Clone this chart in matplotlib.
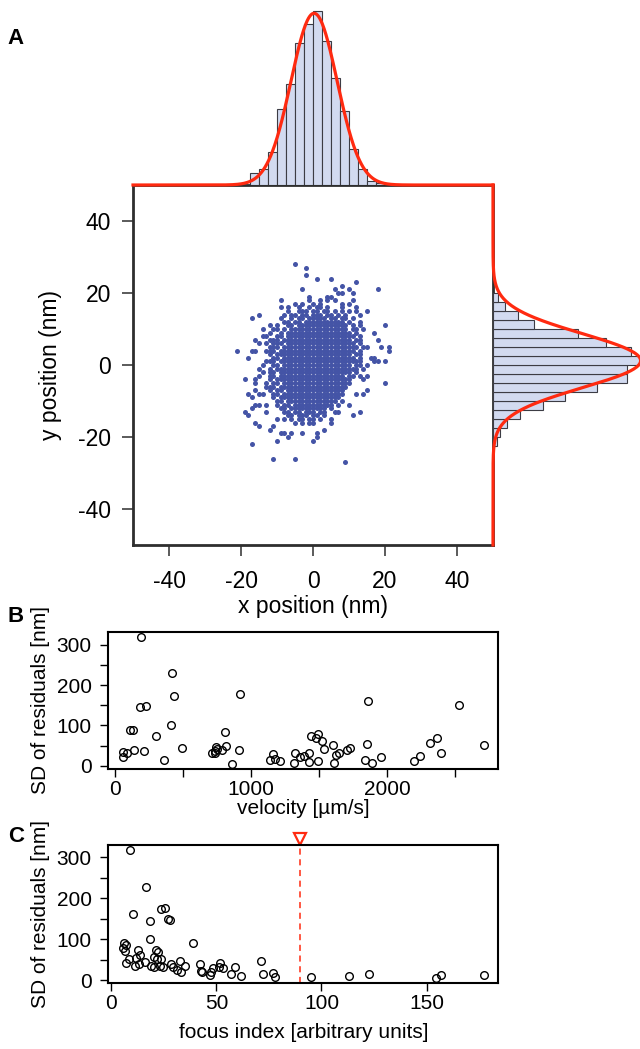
import numpy as np
import matplotlib
matplotlib.use('Agg')
import matplotlib.pyplot as plt
import matplotlib.transforms as mtransforms

plt.rcParams['font.family'] = ['Liberation Sans', 'DejaVu Sans']
plt.rcParams['axes.unicode_minus'] = False

# ---- panel A data ----
# localisations on a 1 nm grid ('#' = a point),
# first row is y = 28 nm, first column is x = -22 nm
cloud_top_y = 28
cloud_left_x = -22
cloud_rows = [
    "..... ..... ..... ..#..",
    "..... ..... ..... ..... #....",
    "",
    "..... ..... ..... ..... #....",
    "..... ..... ..... ..... ...#. ..#..",
    "..... ..... ..... ..... ..... ..... ....#",
    "..... ..... ..... ..... ..... ..... #....",
    "..... ..... ..... ....# ..... ...#. ..#.. ..... #....",
    "..... ..... ..... ..... ..... ....# #..#.",
    "..... ..... ..... ..... .#... .##..",
    "..... ..... ...#. ..... .#..# .#.#. ...#.",
    "..... ..... ..... ..#.# ..#.# ..... #.#..",
    "..... ..... ...#. #..#. .#.## .#... #...#",
    "..... ..... ..... #..## #.##. ##.#. #.#.# ..#..",
    "..... ..#.. ....# .##.# #.### .##.# .#... #....",
    "..... #.... ...#. .#.## .#### #.##. ##.#.",
    "..... ..... ....# #.##. ##### ##### #.#.. #....",
    "..... ..... #.#.. ##.## ##### ##### ##.#. #.... ..#..",
    "..... ...#. .##.# .#### ##### ##### ##.## .#...",
    "..... ..... #..#. ##### ##### ##### ###.# ....#",
    "..... ...## ..##. ##### ##### ##### ####. #....",
    "..... .#... ###.# ##### ##### ##### ###.# #.... #....",
    "..... ..#.# .###. ##### ##### ##### ####. #....",
    "..... ..... ###.# ##### ##### ##### ##### .##.. .#.#.",
    ".#... ##..# ##.## ##### ##### ##### ####. #.... ...#.",
    "..... ..... #.### ##### ##### ##### ###.# #....",
    "....# ..... .##.# ##### ##### ##### ####. #..##",
    "..... ....# ##.## ##### ##### ##### ##### #...# #.#..",
    "..... ...#. .##.# ##### ##### ##### ###.# #.#..",
    "..... ..#.. #.### ##### ##### ##### ##### .#...",
    "..... ...#. ##.## ##### ##### ##### ###.#",
    "..... ..#.. ##.## ##### ##### ##### #.##. #.#..",
    "...#. .#... #.### ##### ##### ##### ###.. .#...",
    "..... .#..# .##.# ##### ##### ##### ###.. ..... ..#..",
    "..... ....# ##.## ##### ##### ##### ##...",
    "..... .#... #.##. ##### ##### ##### #.... ..#..",
    "....# ..##. .##.# ##### ##### ##### #...# .#...",
    "..... #.... .#.## ##### ##### #####",
    "..... ..... ..##. ##### ##### ####. #....",
    "..... .##.# ..#.# #.### ##### ###.# ..#..",
    "..... #.... ...## .#### ##### #.#..",
    "...#. ....# ....# #.##. ###.# #..## ..... #....",
    "....# ..... ..... ##.## #.##. #.... ...#.",
    "..... ..... ..#.# .#.## .##.# ..#..",
    "..... .#... ..... ..#.# .##.. ..#..",
    "..... ..#.. .#...",
    "..... ..... #.... ..... ..... #....",
    "..... ..... ...## .#..# ...#.",
    "..... ..... ..... #.... ...#.",
    "..... ..... ..#.. ..... ..#..",
    "..... #....",
    "",
    "",
    "",
    "..... ..... .#... ..#..",
    "..... ..... ..... ..... ..... ..... .#...",
]

# marginal histograms (2.5 nm bins) and gaussian fits
hist_x_edges = [-17.5, -15, -12.5, -10, -7.5, -5, -2.5, 0, 2.5, 5, 7.5,
                10, 12.5, 15, 17.5, 20, 22.5]
hist_x_counts = [25, 32, 67, 152, 202, 285, 323, 348, 288, 214, 149, 73,
                 32, 8, 4, 2]
hist_y_edges = [-22.5, -20, -17.5, -15, -12.5, -10, -7.5, -5, -2.5, 0, 2.5,
                5, 7.5, 10, 12.5, 15, 17.5, 20]
hist_y_counts = [8, 13, 28, 53, 100, 143, 208, 267, 268, 300, 275, 225, 169,
                 81, 49, 23, 10]
fit_x = (0.3, 6.4)   # mean, sd (nm)
fit_y = (1.2, 7.5)

# ---- panel B / C data ----
velocity = [56, 61, 86, 110, 128, 142, 191, 184, 226, 216, 304, 363, 412, 417,
            434, 491, 709, 731, 744, 748, 736, 783, 805, 817, 861, 910, 915,
            1136, 1158, 1173, 1215, 1313, 1320, 1362, 1387, 1426, 1423, 1443,
            1477, 1490, 1492, 1521, 1539, 1600, 1607, 1627, 1644, 1706, 1725,
            1836, 1853, 1858, 1890, 1953, 2196, 2245, 2319, 2368, 2400, 2528,
            2712]
sd_b = [21, 35, 31, 90, 90, 40, 320, 145, 148, 36, 74, 14, 102, 229,
        172, 44, 31, 33, 47, 42, 37, 40, 84, 48, 4, 39, 177,
        14, 30, 16, 12, 7, 31, 21, 24, 33, 9, 74,
        69, 79, 12, 61, 41, 51, 8, 28, 31, 40, 44,
        15, 54, 161, 7, 22, 12, 25, 56, 70, 33, 150,
        52]

focus = [8.7, 16.5, 10.3, 23.8, 25.4, 26.8, 28.1, 18.4, 18.3, 38.9, 5.4, 6.2,
         7.0, 6.7, 8.3, 6.8, 11.3, 12.5, 11.7, 13.8, 13.0, 15.9, 18.9, 20.2,
         20.5, 21.3, 22.4, 21.6, 23.0, 23.7, 24.6, 28.6, 29.4, 31.3, 32.5,
         32.9, 34.8, 42.1, 42.7, 43.0, 47.1, 47.5, 48.4, 51.1, 51.6, 53.2,
         56.7, 58.6, 61.7, 71.0, 72.1, 76.7, 78.1, 95.1, 113.0, 122.5, 154.3,
         156.8, 177.3]
sd_c = [318, 228, 162, 173, 177, 150, 148, 145, 101, 91, 78, 90,
        85, 71, 52, 41, 35, 74, 55, 62, 39, 45, 34, 33,
        57, 74, 68, 51, 35, 51, 33, 40, 33, 25, 47,
        20, 35, 40, 23, 20, 13, 20, 31, 33, 43, 30,
        14, 32, 10, 48, 16, 18, 8, 8, 11, 15, 5,
        12, 12]
focus_cutoff = 90

# ---- styles ----
dot_blue = '#4454A6'
bar_fill = '#D2DAF0'
bar_edge = '#3C3C44'
fit_red = '#FF2A10'
frame = '#2E2E2E'

W, H = 640, 1049
fig = plt.figure(figsize=(W / 100, H / 100), dpi=100)


def box(l, t, r, b):
    # pixel box -> figure fraction rect
    return [l / W, 1 - b / H, (r - l) / W, (b - t) / H]


def r_lims(v):
    lo, hi = min(v), max(v)
    pad = 0.04 * (hi - lo)
    return lo - pad, hi + pad


# build the cloud
cloud_x, cloud_y = [], []
for i, row in enumerate(cloud_rows):
    for j, ch in enumerate(row.replace(' ', '')):
        if ch == '#':
            cloud_x.append(cloud_left_x + j)
            cloud_y.append(cloud_top_y - i)

# main scatter
ax = fig.add_axes(box(133, 185, 493, 545))
ax.scatter(cloud_x, cloud_y, s=13, c=dot_blue, linewidths=0)
ax.set_xlim(-50, 50)
ax.set_ylim(-50, 50)
ax.set_xticks([-40, -20, 0, 20, 40])
ax.set_yticks([-40, -20, 0, 20, 40])
for s in ax.spines.values():
    s.set_color(frame)
    s.set_linewidth(2)
ax.tick_params(direction='out', length=8, width=1.1, color=frame,
               labelsize=16.5)
ax.tick_params(axis='x', pad=10)
ax.tick_params(axis='y', pad=8)
ax.set_xlabel('x position (nm)', fontsize=16.5)
ax.set_ylabel('y position (nm)', fontsize=16.5)
ax.xaxis.set_label_coords(0.5, -(606 - 545) / 360)
ax.xaxis.label.set_va('center')
ax.yaxis.set_label_coords((51 - 133) / 360, 0.5)
ax.yaxis.label.set_va('center')

# top histogram
n_x = sum(hist_x_counts)
bw_x = hist_x_edges[1] - hist_x_edges[0]
ax_top = fig.add_axes(box(133, 5, 493, 185))
ax_top.bar(hist_x_edges[:-1], hist_x_counts, width=bw_x, align='edge',
           color=bar_fill, edgecolor=bar_edge, linewidth=0.8)
gx = np.linspace(-50, 50, 600)
fx = n_x * bw_x / (fit_x[1] * np.sqrt(2 * np.pi)) * \
    np.exp(-0.5 * ((gx - fit_x[0]) / fit_x[1]) ** 2)
ax_top.plot(gx, fx, color=fit_red, lw=2.3, clip_on=False, zorder=5)
ax_top.set_xlim(-50, 50)
ax_top.set_ylim(0, 360)
ax_top.axis('off')

# right histogram (runs past the page edge, as in the original)
n_y = sum(hist_y_counts)
bw_y = hist_y_edges[1] - hist_y_edges[0]
ax_rt = fig.add_axes(box(493, 185, 673, 545))
ax_rt.barh(hist_y_edges[:-1], hist_y_counts, height=bw_y, align='edge',
           color=bar_fill, edgecolor=bar_edge, linewidth=0.8)
gy = np.linspace(-50, 50, 600)
fy = n_y * bw_y / (fit_y[1] * np.sqrt(2 * np.pi)) * \
    np.exp(-0.5 * ((gy - fit_y[0]) / fit_y[1]) ** 2)
ax_rt.plot(fy, gy, color=fit_red, lw=2.3, clip_on=False, zorder=5)
ax_rt.set_xlim(0, 360)
ax_rt.set_ylim(-50, 50)
ax_rt.axis('off')


def residual_panel(rect, xs, ys, xticks, xlabels, xlabel, xlab_y):
    a = fig.add_axes(rect)
    a.plot(xs, ys, 'o', mfc='none', mec='black', ms=5.5, mew=1.0)
    a.set_xlim(*r_lims(xs))
    a.set_ylim(*r_lims(ys))
    a.set_xticks(xticks)
    a.set_xticklabels(xlabels)
    a.set_yticks([0, 50, 100, 150, 200, 250, 300])
    a.set_yticklabels(['0', '', '100', '', '200', '', '300'])
    for s in a.spines.values():
        s.set_color('black')
        s.set_linewidth(1.5)
    a.tick_params(direction='out', length=6, width=1, labelsize=15)
    a.tick_params(axis='x', pad=2)
    a.tick_params(axis='y', pad=6)
    a.set_xlabel(xlabel, fontsize=15)
    a.set_ylabel('SD of residuals [nm]', fontsize=15)
    a.xaxis.set_label_coords(0.5, xlab_y)
    a.xaxis.label.set_va('center')
    a.yaxis.set_label_coords((40 - 108.3) / 390, 0.5)
    a.yaxis.label.set_va('center')
    return a


ax_b = residual_panel(box(108.3, 631.7, 498.3, 769.3), velocity, sd_b,
                      [0, 500, 1000, 1500, 2000, 2500],
                      ['0', '', '1000', '', '2000', ''],
                      'velocity [µm/s]', -(808 - 769.3) / 137.6)

ax_c = residual_panel(box(108.3, 845, 498.3, 983.3), focus, sd_c,
                      [0, 50, 100, 150], ['0', '50', '100', '150'],
                      'focus index [arbitrary units]', -(1033 - 983.3) / 138.3)
ax_c.axvline(focus_cutoff, color='#FF2A10', lw=1.1, ls=(0, (4, 3)))
trans = mtransforms.blended_transform_factory(ax_c.transData, ax_c.transAxes)
ax_c.plot([focus_cutoff], [1.045], marker='v', ms=9, mfc='white',
          mec='#FF2A10', mew=1.6, transform=trans, clip_on=False)

# panel letters
for lab, y in [('A', 38), ('B', 617), ('C', 836)]:
    fig.text(16 / W, 1 - y / H, lab, fontsize=16, fontweight='bold',
             ha='center', va='center')

fig.savefig('out.png', dpi=100)
